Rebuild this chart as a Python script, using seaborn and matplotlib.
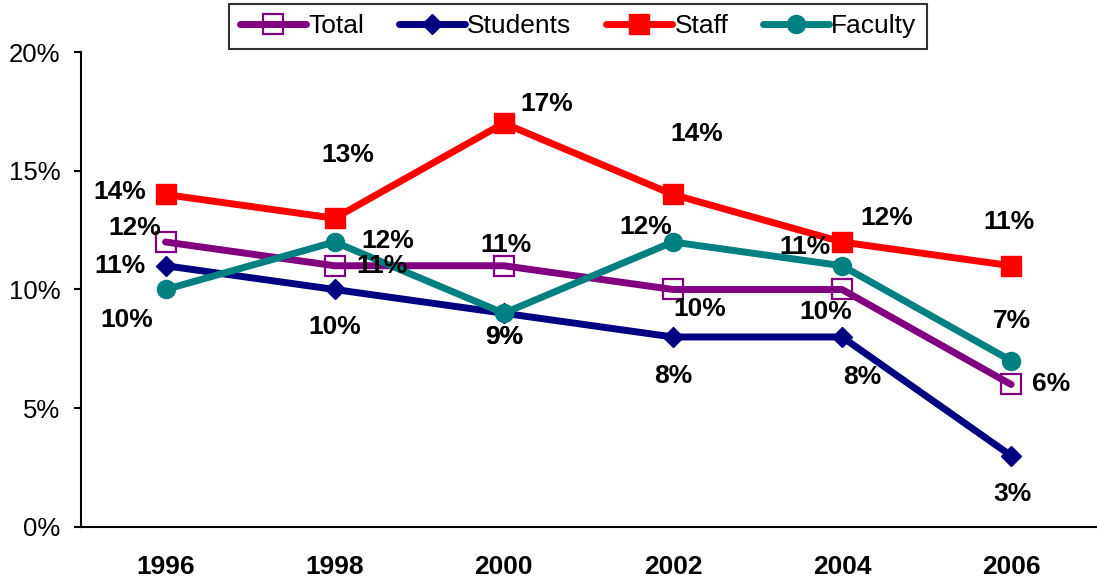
import numpy as np
import pandas as pd
import seaborn as sns
import matplotlib.pyplot as plt

# Werte (in Prozent)
years = ['1996', '1998', '2000', '2002', '2004', '2006']
total = [12, 11, 11, 10, 10, 6]
students = [11, 10, 9, 8, 8, 3]
staff = [14, 13, 17, 14, 12, 11]
faculty = [10, 12, 9, 12, 11, 7]

series = {'Total': total, 'Students': students, 'Staff': staff, 'Faculty': faculty}

# Stil pro Linie
styles = {
    'Total':    dict(color='#800080', marker='s', ms=14, mfc='none', mew=1.6),
    'Students': dict(color='#000080', marker='D', ms=10, mfc='#000080', mew=1),
    'Staff':    dict(color='#FF0000', marker='s', ms=14, mfc='#FF0000', mew=1),
    'Faculty':  dict(color='#008080', marker='o', ms=13, mfc='#008080', mew=1),
}

# Beschriftungs-Versatz in Pixeln (dx, dy nach unten)
label_offsets = {
    'Total':    [(-31, -14), (47, 0), (2, -21), (27, 20), (-16, 23), (40, 0)],
    'Students': [(-46, 0), (0, 38), (0, 24), (0, 39), (20, 40), (1, 38)],
    'Staff':    [(-46, -2), (13, -63), (43, -19), (24, -60), (45, -24), (-2, -44)],
    'Faculty':  [(-39, 31), (53, -1), (0, 24), (-27, -15), (-37, -19), (1, -40)],
}

df = pd.DataFrame([
    {'pos': i, 'year': y, 'series': name, 'value': v}
    for name, vals in series.items() for i, (y, v) in enumerate(zip(years, vals))
])

sns.set_style('white')
plt.rcParams['font.family'] = ['Liberation Sans', 'DejaVu Sans']
plt.rcParams.update({'text.color': 'black', 'xtick.color': 'black',
                     'ytick.color': 'black', 'axes.edgecolor': 'black'})

fig = plt.figure(figsize=(10.97, 5.83), dpi=100)
ax = fig.add_axes([0.0738, 0.0961, 0.925, 0.8147])

for name in series:
    st = styles[name]
    sub = df[df['series'] == name]
    sns.lineplot(data=sub, x='pos', y='value', ax=ax, label=name,
                 color=st['color'], linewidth=5, marker=st['marker'],
                 markersize=st['ms'], markerfacecolor=st['mfc'],
                 markeredgecolor=st['color'], markeredgewidth=st['mew'])
    for (_, row), (dx, dy) in zip(sub.iterrows(), label_offsets[name]):
        ax.annotate(f"{row['value']}%", (row['pos'], row['value']),
                    xytext=(dx * 0.72, -dy * 0.72), textcoords='offset points',
                    ha='center', va='center', fontsize=19, fontweight='bold',
                    color='black', zorder=5)

ax.set_xlim(-0.5, 5.5)
ax.set_ylim(0, 20)
ax.set_xticks(range(len(years)))
ax.set_xticklabels(years, fontsize=19, fontweight='bold')
ax.set_xticks(np.arange(-0.5, 6, 1), minor=True)
ax.tick_params(axis='x', which='major', length=0, pad=20)
ax.tick_params(axis='x', which='minor', length=6, width=1.5, direction='out', color='black')
ax.set_yticks([0, 5, 10, 15, 20])
ax.set_yticklabels([f'{v}%' for v in [0, 5, 10, 15, 20]], fontsize=18.5)
ax.tick_params(axis='y', length=5, width=1.5, direction='out', color='black', pad=10, left=True)
ax.set_xlabel('')
ax.set_ylabel('')
for side in ['top', 'right']:
    ax.spines[side].set_visible(False)
for side in ['left', 'bottom']:
    ax.spines[side].set_linewidth(1.5)
    ax.spines[side].set_color('black')

leg = ax.legend(loc='center', bbox_to_anchor=(0.527, 0.955), bbox_transform=fig.transFigure,
                ncol=4, fontsize=19, frameon=True, fancybox=False, edgecolor='black',
                handlelength=2.5, handletextpad=0.1, columnspacing=1.3,
                borderpad=0.4, borderaxespad=0)
leg.get_frame().set_linewidth(1.5)

fig.savefig('out.png', dpi=100)
